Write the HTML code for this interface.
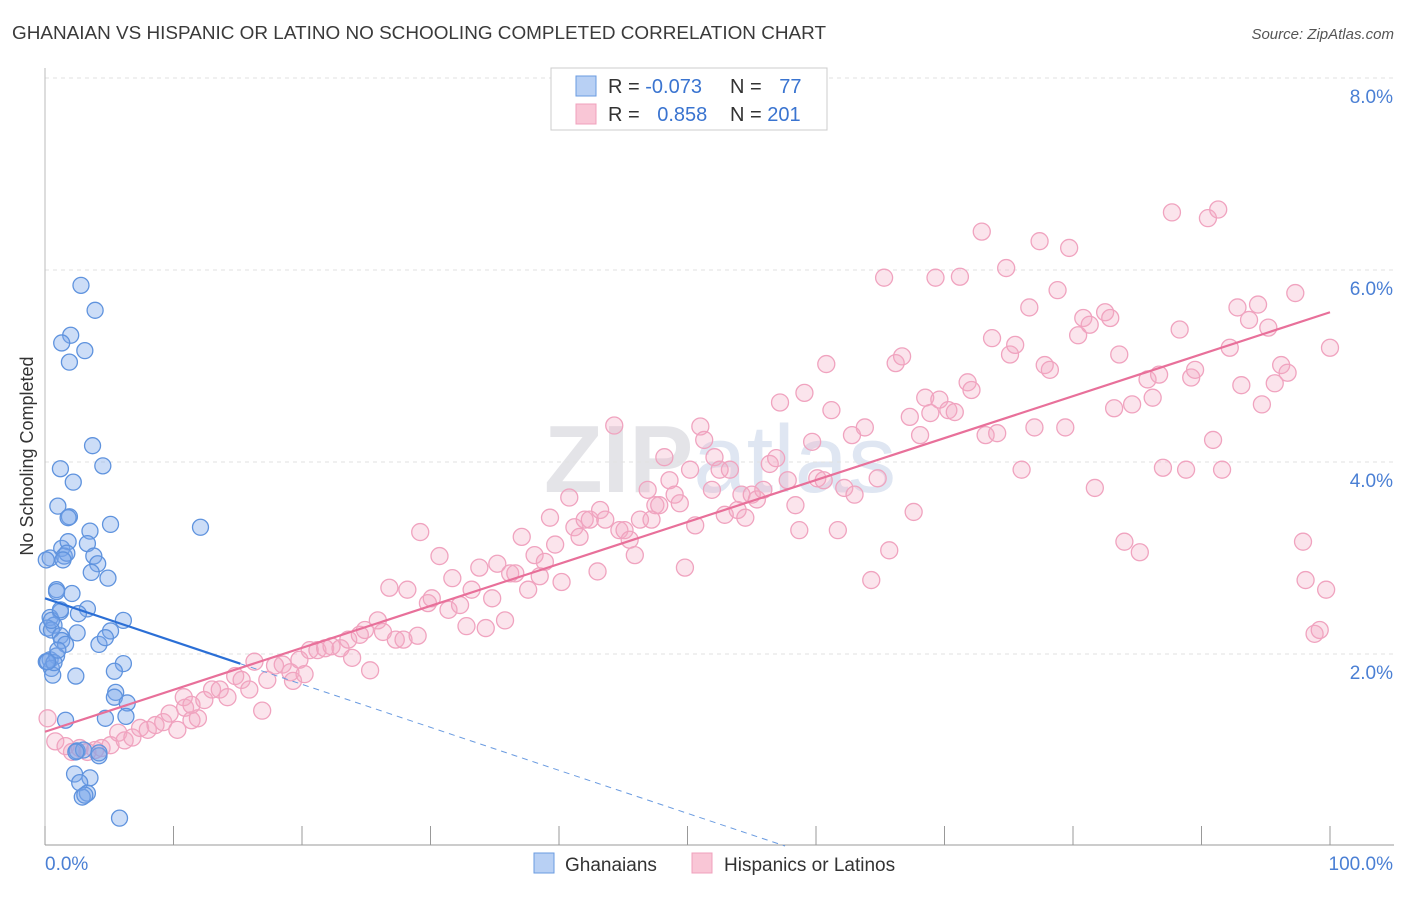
<!DOCTYPE html>
<html><head><meta charset="utf-8">
<style>
body{margin:0;background:#fff;font-family:"Liberation Sans",sans-serif;}
svg text{font-family:"Liberation Sans",sans-serif;}
</style></head>
<body>
<svg id="chart" width="1406" height="892" viewBox="0 0 1406 892">
<text x="12" y="39" font-size="18.5" fill="#3a3a3a" textLength="814" lengthAdjust="spacingAndGlyphs">GHANAIAN VS HISPANIC OR LATINO NO SCHOOLING COMPLETED CORRELATION CHART</text>
<text x="1394" y="39" font-size="15" fill="#555" text-anchor="end" font-style="italic">Source: ZipAtlas.com</text>
<text x="720" y="492" font-size="96" fill="#e4e4e8" text-anchor="middle" font-family="Liberation Serif" font-weight="bold">ZIP<tspan font-family="Liberation Sans" font-weight="normal" fill="#dfe6f2">atlas</tspan></text>
<g id="grid"></g>
<g id="axes"></g>
<g id="marks"></g>
<text transform="translate(33,456) rotate(-90)" font-size="18" fill="#333" text-anchor="middle">No Schooling Completed</text>
<g>
<rect x="551" y="68" width="276" height="62" fill="#fff" stroke="#ccc"/>
<rect x="576" y="76" width="20" height="20" fill="#b8d0f4" stroke="#6a9be0"/>
<rect x="576" y="104" width="20" height="20" fill="#f9c6d6" stroke="#f0a0bc"/>
<text x="608" y="93" font-size="20" fill="#333">R = <tspan fill="#3a74d0">-0.073</tspan></text>
<text x="730" y="93" font-size="20" fill="#333">N = <tspan fill="#3a74d0" dx="12">77</tspan></text>
<text x="608" y="121" font-size="20" fill="#333">R = <tspan fill="#3a74d0" dx="12">0.858</tspan></text>
<text x="730" y="121" font-size="20" fill="#333">N = <tspan fill="#3a74d0">201</tspan></text>
</g>
<g>
<rect x="534" y="853" width="20" height="20" fill="#b8d0f4" stroke="#6a9be0"/>
<text x="565" y="871" font-size="19" fill="#333">Ghanaians</text>
<rect x="692" y="853" width="20" height="20" fill="#f9c6d6" stroke="#f0a0bc"/>
<text x="724" y="871" font-size="19" fill="#333">Hispanics or Latinos</text>
</g>
</svg>
<script>
const yTicks=[2,4,6,8];
const yTickLabels=["2.0%","4.0%","6.0%","8.0%"];
const xTicks=[0,10,20,30,40,50,60,70,80,90,100];
const blueX=[2.8,3.9,2.0,1.3,3.1,1.9,3.7,4.5,1.2,2.2,1.0,1.9,1.8,12.1,5.1,3.5,1.3,1.8,3.3,1.5,1.7,0.4,3.8,1.4,4.1,3.6,4.9,0.9,2.1,0.9,3.3,2.6,1.2,0.4,6.1,0.7,0.2,0.5,5.1,1.2,2.5,1.3,4.2,4.7,1.6,0.4,0.9,0.1,6.1,0.5,5.4,0.6,2.4,5.5,5.4,6.4,4.7,1.6,6.3,2.5,3.0,4.2,2.3,3.5,2.7,3.3,2.9,3.1,5.8,0.7,0.2,0.5,2.4,4.2,1.2,0.1,1.0];
const blueY=[5.84,5.58,5.32,5.24,5.16,5.04,4.17,3.96,3.93,3.79,3.54,3.43,3.42,3.32,3.35,3.28,3.10,3.17,3.15,3.02,3.05,3.00,3.02,2.98,2.94,2.85,2.79,2.67,2.63,2.65,2.47,2.42,2.44,2.38,2.35,2.30,2.27,2.25,2.24,2.19,2.22,2.14,2.10,2.17,2.10,1.94,1.98,1.92,1.90,1.85,1.82,1.78,1.77,1.60,1.55,1.49,1.33,1.31,1.35,0.99,1.00,0.94,0.75,0.71,0.66,0.55,0.51,0.53,0.29,1.91,1.92,2.35,0.98,0.97,2.46,2.98,2.04];
const pinkX=[0.2,0.8,1.6,2.1,2.7,3.3,3.9,4.4,5.1,5.7,6.2,6.8,7.4,8.0,8.6,9.2,9.7,10.3,10.9,11.4,11.9,10.8,11.4,12.4,13.0,13.6,14.2,14.8,15.3,15.9,16.3,16.9,17.3,17.9,18.5,19.1,19.3,19.8,20.2,20.6,21.2,21.8,22.3,23.0,23.6,23.9,24.5,24.9,25.3,25.9,26.3,26.8,27.3,27.9,28.2,29.0,29.2,29.8,30.1,30.7,31.4,31.7,32.3,32.8,33.2,33.8,34.3,34.8,35.2,35.8,36.2,36.6,37.1,37.6,38.1,38.5,38.9,39.3,39.7,40.2,40.8,41.2,41.6,42.0,42.4,43.0,43.2,43.6,44.3,44.7,45.1,45.5,45.9,46.3,46.9,47.2,47.5,47.8,48.2,48.6,49.0,49.4,49.8,50.2,50.6,51.0,51.3,51.9,52.1,52.5,52.9,53.3,53.9,54.2,54.5,55.0,55.4,55.9,56.4,56.9,57.2,57.8,58.4,58.7,59.1,59.7,60.1,60.6,60.8,61.2,61.7,62.2,62.8,63.0,63.8,64.3,64.8,65.3,65.7,66.2,66.7,67.3,67.6,68.1,68.5,68.9,69.3,69.6,70.3,70.8,71.2,71.8,72.1,72.9,73.2,73.7,74.1,74.8,75.1,75.5,76.0,76.6,77.0,77.4,77.8,78.2,78.8,79.4,79.7,80.4,80.8,81.3,81.7,82.5,82.9,83.2,83.6,84.0,84.6,85.2,85.8,86.2,86.7,87.0,87.7,88.3,88.8,89.2,89.5,90.5,90.9,91.3,91.6,92.2,92.8,93.1,93.7,94.4,94.7,95.2,95.7,96.2,96.7,97.3,97.9,98.1,98.8,99.2,99.7,100.0];
const pinkY=[1.33,1.09,1.04,0.98,1.02,0.98,1.00,1.02,1.05,1.18,1.10,1.13,1.23,1.21,1.26,1.29,1.38,1.21,1.44,1.31,1.33,1.55,1.47,1.52,1.63,1.63,1.55,1.77,1.73,1.63,1.92,1.41,1.73,1.88,1.89,1.81,1.72,1.94,1.79,2.04,2.04,2.06,2.08,2.06,2.15,1.96,2.20,2.25,1.83,2.35,2.23,2.69,2.15,2.15,2.67,2.19,3.27,2.53,2.58,3.02,2.46,2.79,2.51,2.29,2.67,2.90,2.27,2.58,2.94,2.35,2.84,2.84,3.22,2.67,3.03,2.81,2.96,3.42,3.14,2.75,3.63,3.32,3.22,3.40,3.40,2.86,3.50,3.40,4.38,3.29,3.29,3.19,3.03,3.40,3.71,3.40,3.55,3.55,4.05,3.81,3.66,3.57,2.90,3.92,3.34,4.37,4.23,3.71,4.05,3.92,3.45,3.92,3.50,3.66,3.42,3.66,3.61,3.71,3.98,4.04,4.62,3.81,3.55,3.29,4.72,4.21,3.83,3.81,5.02,4.54,3.29,3.73,4.28,3.66,4.36,2.77,3.83,5.92,3.08,5.03,5.10,4.47,3.48,4.28,4.67,4.51,5.92,4.65,4.54,4.52,5.93,4.83,4.75,6.40,4.28,5.29,4.30,6.02,5.12,5.22,3.92,5.61,4.36,6.30,5.01,4.96,5.79,4.36,6.23,5.32,5.50,5.43,3.73,5.56,5.50,4.56,5.12,3.17,4.60,3.06,4.86,4.67,4.91,3.94,6.60,5.38,3.92,4.88,4.96,6.54,4.23,6.63,3.92,5.19,5.61,4.80,5.48,5.64,4.60,5.40,4.82,5.01,4.93,5.76,3.17,2.77,2.21,2.25,2.67,5.19];
const blueTrend=[2.58,-0.0448];
const pinkTrend=[1.19,0.0437];
const NS="http://www.w3.org/2000/svg";
const X0=45,X1=1330,Y0=846,PX_PER_Y=96;
function sx(v){return X0+(X1-X0)*v/100;}
function sy(v){return Y0-v*PX_PER_Y;}
function mk(tag,attrs,parent){const e=document.createElementNS(NS,tag);for(const k in attrs)e.setAttribute(k,attrs[k]);parent.appendChild(e);return e;}
const grid=document.getElementById('grid'),axes=document.getElementById('axes'),marks=document.getElementById('marks');
yTicks.forEach((t,i)=>{
  const l=mk('line',{x1:45,x2:1394,y1:sy(t),y2:sy(t),stroke:'#e2e2e2','stroke-dasharray':'4,4'},grid);
  
  
  const tx=mk('text',{x:1393,y:sy(t)+25,'font-size':19,fill:'#4a7fd4','text-anchor':'end'},axes);
  tx.textContent=yTickLabels[i];
  
  
});
const ax=mk('line',{x1:45,x2:1394,y1:845,y2:845,stroke:'#999'},axes);


const ay=mk('line',{x1:45,x2:45,y1:68,y2:845,stroke:'#bbb'},axes);


xTicks.forEach(t=>{
  const l=mk('line',{x1:sx(t),x2:sx(t),y1:826,y2:845,stroke:'#999'},axes);
  
  
});
const xl0=mk('text',{x:45,y:870,'font-size':19,fill:'#4a7fd4'},axes);xl0.textContent='0.0%';


const xl1=mk('text',{x:1393,y:870,'font-size':19,fill:'#4a7fd4','text-anchor':'end'},axes);xl1.textContent='100.0%';


pinkX.forEach((x,i)=>{
  const c=mk('circle',{cx:sx(x),cy:sy(pinkY[i]),r:8.5,fill:'rgba(244,170,196,0.32)',stroke:'#f0a3bf','stroke-width':1.3},marks);
  
  
});
blueX.forEach((x,i)=>{
  const c=mk('circle',{cx:sx(x),cy:sy(blueY[i]),r:8,fill:'rgba(120,165,235,0.38)',stroke:'#5f93de','stroke-width':1.3},marks);
  
  
});
const bEnd=15.2,bZero=-blueTrend[0]/blueTrend[1];
const bl=mk('line',{x1:sx(0),y1:sy(blueTrend[0]),x2:sx(bEnd),y2:sy(blueTrend[0]+blueTrend[1]*bEnd),stroke:'#2b6fd6','stroke-width':2.2},marks);


const bd=mk('line',{x1:sx(bEnd),y1:sy(blueTrend[0]+blueTrend[1]*bEnd),x2:sx(bZero),y2:sy(0),stroke:'#6a9be0','stroke-width':1,'stroke-dasharray':'6,5'},marks);


const pl=mk('line',{x1:sx(0),y1:sy(pinkTrend[0]),x2:sx(100),y2:sy(pinkTrend[0]+pinkTrend[1]*100),stroke:'#e8709a','stroke-width':2.2},marks);


</script>
</body></html>
